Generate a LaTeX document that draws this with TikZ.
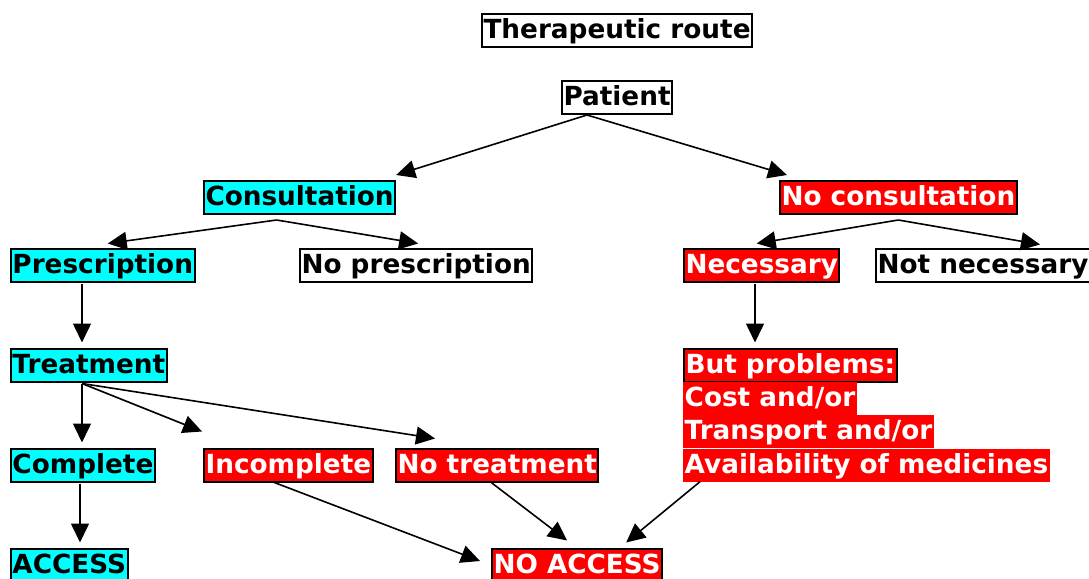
\documentclass[tikz,border=0pt]{standalone}
\usepackage{fontspec}
\setmainfont{DejaVu Sans}
\usetikzlibrary{arrows.meta}
\definecolor{okcyan}{RGB}{0,255,255}
\definecolor{nored}{RGB}{255,0,0}

\begin{document}
\begin{tikzpicture}[x=1pt, y=-1pt,
  every node/.style={font=\fontsize{26.3}{30}\selectfont\bfseries, anchor=west,
    inner xsep=1.5pt, inner ysep=4pt, text height=20.5pt, text depth=4.5pt},
  plain/.style={draw, line width=2pt},
  yes/.style={plain, fill=okcyan},
  no/.style={plain, fill=nored, text=white},
  noline/.style={fill=nored, text=white},
  arrow/.style={-{Triangle[length=19pt,width=18pt]}, line width=1.6pt}
]
\useasboundingbox (0,0) rectangle (1089,578);
% boxes
\node[plain] (title) at (481,31) {Therapeutic route};
\node[plain] (patient) at (561,97.5) {Patient};
\node[yes] (cons) at (203,197.5) {Consultation};
\node[no] (nocons) at (779,197.5) {No consultation};
\node[yes] (presc) at (10,265) {Prescription};
\node[plain] (nopresc) at (299,265) {No prescription};
\node[no] (nec) at (683,265) {Necessary};
\node[plain] (notnec) at (875,265) {Not necessary};
\node[yes] (treat) at (10,365) {Treatment};
\node[no] (prob) at (683,365) {But problems:};
\node[noline] (cost) at (683,398.5) {Cost and/or};
\node[noline] (transp) at (683,431.5) {Transport and/or};
\node[noline] (avail) at (683,465) {Availability of medicines};
\node[yes] (compl) at (10,465) {Complete};
\node[no] (incompl) at (203,465) {Incomplete};
\node[no] (notreat) at (395,465) {No treatment};
\node[yes] (access) at (10,565) {ACCESS};
\node[no] (noaccess) at (491,565) {NO ACCESS};
% connectors
\draw[arrow] ([xshift=-30pt]patient.south) -- ([yshift=5pt]cons.north east);
\draw[arrow] ([xshift=-30pt]patient.south) -- ([xshift=8pt,yshift=5pt]nocons.north west);
\draw[arrow] ([xshift=-23pt,yshift=-5pt]cons.south) -- ([xshift=5pt,yshift=4pt]presc.north);
\draw[arrow] ([xshift=-23pt,yshift=-5pt]cons.south) -- ([xshift=2pt,yshift=4pt]nopresc.north);
\draw[arrow] ([yshift=-5pt]nocons.south) -- ([xshift=-5pt,yshift=4pt]nec.north);
\draw[arrow] ([yshift=-5pt]nocons.south) -- ([xshift=-51pt,yshift=3pt]notnec.north east);
\draw[arrow] ([xshift=72pt,yshift=-1pt]presc.south west) -- ([xshift=72pt,yshift=5pt]treat.north west);
\draw[arrow] ([xshift=72pt,yshift=-1pt]nec.south west) -- ([xshift=72pt,yshift=5pt]prob.north west);
\draw[arrow] ([xshift=72pt,yshift=-1pt]treat.south west) -- ([xshift=72pt,yshift=5pt]compl.north west);
\draw[arrow] ([xshift=72pt,yshift=-1pt]treat.south west) -- ([xshift=-1pt,yshift=16pt]incompl.north west);
\draw[arrow] ([xshift=72pt,yshift=-1pt]treat.south west) -- ([xshift=40pt,yshift=9pt]notreat.north west);
\draw[arrow] ([xshift=70pt,yshift=-1pt]compl.south west) -- ([xshift=70pt,yshift=5pt]access.north west);
\draw[arrow] ([xshift=-14pt]incompl.south) -- ([xshift=-11pt,yshift=4pt]noaccess.west);
\draw[arrow] ([xshift=-6pt]notreat.south) -- ([xshift=-10pt,yshift=7pt]noaccess.north);
\draw[arrow] ([xshift=17pt]avail.south west) -- ([xshift=-37pt,yshift=5pt]noaccess.north east);
\end{tikzpicture}
\end{document}
